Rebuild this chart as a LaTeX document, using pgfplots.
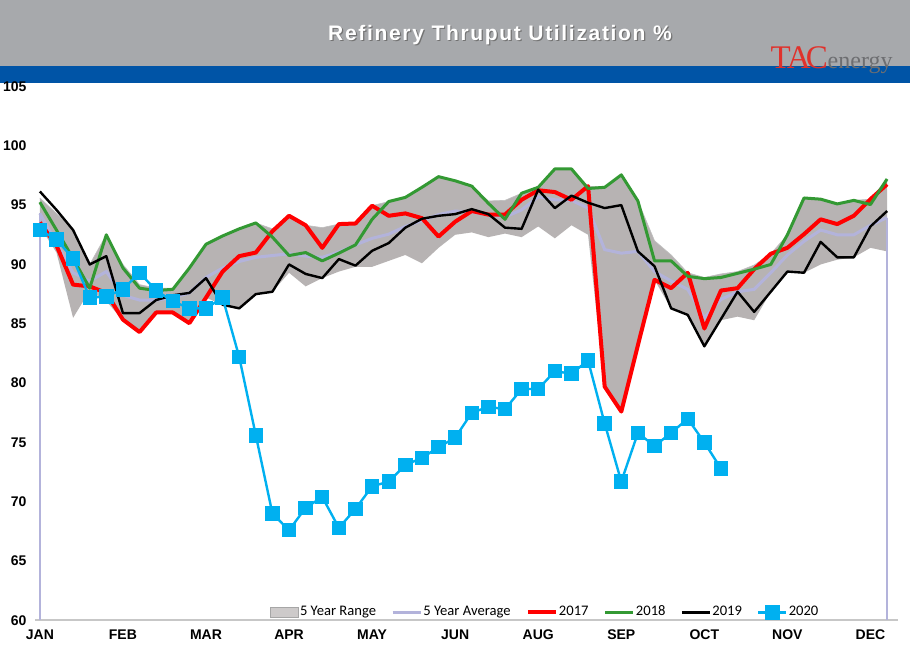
\documentclass[border=0pt]{standalone}
\usepackage{pgfplots}
\pgfplotsset{compat=1.18}
\usepackage{pgfplotstable}
\usepackage{fontspec}
\setmainfont{Liberation Sans}
\newfontfamily\legfont{Carlito}
\newfontfamily\logofont{Liberation Serif}
\definecolor{hdrgray}{HTML}{A7A9AC}
\definecolor{hdrblue}{HTML}{0054A6}
\definecolor{bandgray}{HTML}{B7B3B3}
\definecolor{avgcol}{HTML}{B3B3DB}
\definecolor{c17}{HTML}{FF0000}
\definecolor{c18}{HTML}{339933}
\definecolor{c20}{HTML}{00B0F0}
\definecolor{logored}{HTML}{E0312B}
\definecolor{logogray}{HTML}{6D6E71}

\pgfplotstableread{
w  avg    y17    y18    y19
0  94.3   93.54  95.25  96.15
1  91.8   91.6   92.9   94.6
2  89.3   88.3   90.5   92.9
3  88.6   88.15  88.0   90.0
4  89.4   87.6   92.5   90.7
5  87.4   85.35  89.7   85.9
6  87.0   84.3   88.0   85.9
7  87.0   85.95  87.8   87.0
8  87.2   85.95  87.9   87.4
9  87.6   85.05  89.7   87.6
10 88.9   87.2   91.7   88.85
11 89.7   89.4   92.4   86.6
12 90.25  90.7   93.0   86.3
13 90.6   91.0   93.5   87.5
14 90.75  92.8   92.3   87.7
15 90.9   94.1   90.75  90.0
16 90.7   93.3   91.0   89.2
17 90.6   91.4   90.3   88.85
18 91.05  93.4   90.95  90.45
19 91.65  93.45  91.65  89.9
20 92.2   94.95  93.8   91.15
21 92.55  94.1   95.3   91.8
22 93.2   94.3   95.65  93.1
23 93.7   93.9   96.5   93.85
24 94.2   92.35  97.4   94.1
25 94.5   93.6   97.05  94.24
26 94.4   94.5   96.6   94.66
27 94.2   94.2   95.15  94.24
28 94.0   94.2   93.8   93.1
29 94.6   95.45  96.0   93.0
30 95.7   96.25  96.5   96.3
31 95.45  96.1   98.05  94.75
32 95.4   95.45  98.05  95.8
33 94.75  96.6   96.4   95.2
34 91.25  79.7   96.5   94.75
35 90.95  77.6   97.55  95.0
36 91.1   83.2   95.35  91.1
37 89.4   88.7   90.3   89.85
38 88.6   88.0   90.3   86.3
39 87.9   89.3   89.0   85.75
40 85.5   84.6   88.8   83.1
41 87.05  87.8   88.9   85.4
42 87.7   88.0   89.25  87.7
43 87.9   89.6   89.6   86.0
44 89.3   90.9   90.0   87.7
45 90.8   91.4   92.5   89.4
46 91.95  92.55  95.6   89.3
47 92.9   93.8   95.5   91.9
48 92.5   93.4   95.1   90.6
49 92.5   94.1   95.4   90.6
50 93.3   95.5   95.05  93.2
51 93.95  96.75  97.2   94.5
}\hist

% 5-year range polygon: maximum forward, then minimum backward
\pgfplotstableread{
w  v
0  95.6
1  94.3
2  92.9
3  90.0
4  92.5
5  90.0
6  88.3
7  88.0
8  88.0
9  89.7
10 91.7
11 92.4
12 93.0
13 93.5
14 93.0
15 94.1
16 93.3
17 93.1
18 93.4
19 93.5
20 94.95
21 95.3
22 95.65
23 96.5
24 97.4
25 97.05
26 96.6
27 95.35
28 95.4
29 96.0
30 96.5
31 98.05
32 98.05
33 96.6
34 96.5
35 97.55
36 95.35
37 92.0
38 90.8
39 89.3
40 88.9
41 89.2
42 89.4
43 89.95
44 90.9
45 92.5
46 95.6
47 95.5
48 95.1
49 95.4
50 95.5
51 97.2
51 91.1
50 91.4
49 90.6
48 90.4
47 90.0
46 89.3
45 89.3
44 87.7
43 85.3
42 85.6
41 85.3
40 83.1
39 85.75
38 86.3
37 88.7
36 83.2
35 77.6
34 79.7
33 92.5
32 93.3
31 92.2
30 93.2
29 92.3
28 92.6
27 92.3
26 92.7
25 92.5
24 91.4
23 90.1
22 90.8
21 90.3
20 89.8
19 89.8
18 89.4
17 88.85
16 88.15
15 89.3
14 87.7
13 87.5
12 86.3
11 86.6
10 87.2
9  85.0
8  85.9
7  85.9
6  84.3
5  85.3
4  86.9
3  87.8
2  85.5
1  91.0
0  93.2
}\band

\pgfplotstableread{
w  v
0  95.6
1  94.3
2  92.9
3  90.0
4  92.5
5  90.0
6  88.3
7  88.0
8  88.0
9  89.7
10 91.7
11 92.4
12 93.0
13 93.5
14 93.0
15 94.1
16 93.3
17 93.1
18 93.4
19 93.5
20 94.95
21 95.3
22 95.65
23 96.5
24 97.4
25 97.05
26 96.6
27 95.35
28 95.4
29 96.0
30 96.5
31 98.05
32 98.05
33 96.6
34 96.5
35 97.55
36 95.35
37 92.0
38 90.8
39 89.3
40 88.9
41 89.2
42 89.4
43 89.95
44 90.9
45 92.5
46 95.6
47 95.5
48 95.1
49 95.4
50 95.5
51 97.2
}\bandtop

\pgfplotstableread{
w  y20
0  92.9
1  92.1
2  90.5
3  87.2
4  87.3
5  87.9
6  89.3
7  87.8
8  86.9
9  86.3
10 86.3
11 87.2
12 82.2
13 75.6
14 69.0
15 67.6
16 69.5
17 70.4
18 67.8
19 69.4
20 71.3
21 71.7
22 73.1
23 73.7
24 74.6
25 75.4
26 77.5
27 78.0
28 77.8
29 79.5
30 79.5
31 81.0
32 80.8
33 81.9
34 76.6
35 71.7
36 75.8
37 74.7
38 75.8
39 77.0
40 75.0
41 72.8
}\cur

\pgfplotstableread{
w  avg
0  60
0  94.3
}\avgstart
\pgfplotstableread{
w  avg
51 93.95
51 60
}\avgend

\begin{document}
\begin{tikzpicture}[x=1pt,y=1pt]
\fill[white] (0,0) rectangle (455,329.5);
\fill[hdrgray] (0,296.5) rectangle (455,329.5);
\fill[hdrblue] (0,288) rectangle (455,296.5);
\node[text=black!55, font=\bfseries\fontsize{10.5}{12}\selectfont\addfontfeatures{LetterSpace=8}] at (250.6,311.6) {Refinery Thruput Utilization \%};
\node[text=white, font=\bfseries\fontsize{10.5}{12}\selectfont\addfontfeatures{LetterSpace=8}] at (250,312.2) {Refinery Thruput Utilization \%};
\node[anchor=base east, inner sep=0pt] at (446.5,295) {{\logofont\fontsize{16.5}{16}\selectfont\color{logored}T\kern-2pt A\kern-2.5pt C}{\logofont\fontsize{12}{12}\selectfont\color{logogray}energy}};
\begin{axis}[
  at={(21,32.5)}, anchor=south west,
  scale only axis, width=431.5pt, height=267pt,
  xmin=-0.3, xmax=51.65, ymin=60, ymax=105,
  clip=false,
  axis x line*=bottom, axis y line*=left,
  x axis line style={draw=black!22, line width=1pt, -},
  y axis line style={draw=none},
  major tick length=0pt,
  xtick={0,5,10,15,20,25,30,35,40,45,50},
  xticklabels={JAN,FEB,MAR,APR,MAY,JUN,AUG,SEP,OCT,NOV,DEC},
  ytick={60,65,70,75,80,85,90,95,100,105},
  /pgf/number format/assume math mode=true,
  yticklabel style={font=\bfseries\fontsize{7}{8}\selectfont, inner sep=0pt, xshift=-4pt},
  xticklabel style={font=\bfseries\fontsize{7}{8}\selectfont, inner sep=0pt, yshift=-4.5pt},
  legend columns=6,
  legend style={at={(0.272,0.0)}, anchor=south west, draw=none, fill=none,
    font=\legfont\fontsize{7.3}{9}\selectfont, inner sep=0pt,
    nodes={inner sep=0.6pt},
    /tikz/every even column/.append style={column sep=7pt}},
  legend cell align=left,
  legend image code/.code={\draw[mark repeat=2,mark phase=2,#1] plot coordinates {(0pt,0pt) (7pt,0pt) (14pt,0pt)};},
]
\addplot[fill=bandgray, draw=none,
  legend image code/.code={\draw[fill=bandgray!70, draw=black!35] (0pt,-2.5pt) rectangle (14pt,2.5pt);}]
  table[x=w,y=v]{\band};
\addlegendentry{5 Year Range}
\addplot[draw=black!25, line width=0.3pt, forget plot] table[x=w,y=v]{\bandtop};
\addplot[avgcol, line width=1.5pt] table[x=w,y=avg]{\hist};
\addlegendentry{5 Year Average}
\addplot[avgcol, line width=1.2pt, forget plot] table[x=w,y=avg]{\avgstart};
\addplot[avgcol, line width=1.2pt, forget plot] table[x=w,y=avg]{\avgend};
\addplot[c17, line width=2pt, line join=round] table[x=w,y=y17]{\hist};
\addlegendentry{2017}
\addplot[c18, line width=1.5pt, line join=round] table[x=w,y=y18]{\hist};
\addlegendentry{2018}
\addplot[black, line width=1.2pt, line join=round] table[x=w,y=y19]{\hist};
\addlegendentry{2019}
\addplot[c20, line width=1.2pt, mark=square*, mark size=3pt, mark options={fill=c20, draw=c20}] table[x=w,y=y20]{\cur};
\addlegendentry{2020}
\end{axis}
\pgfresetboundingbox
\path (0,0) rectangle (455,329.5);
\end{tikzpicture}
\end{document}
